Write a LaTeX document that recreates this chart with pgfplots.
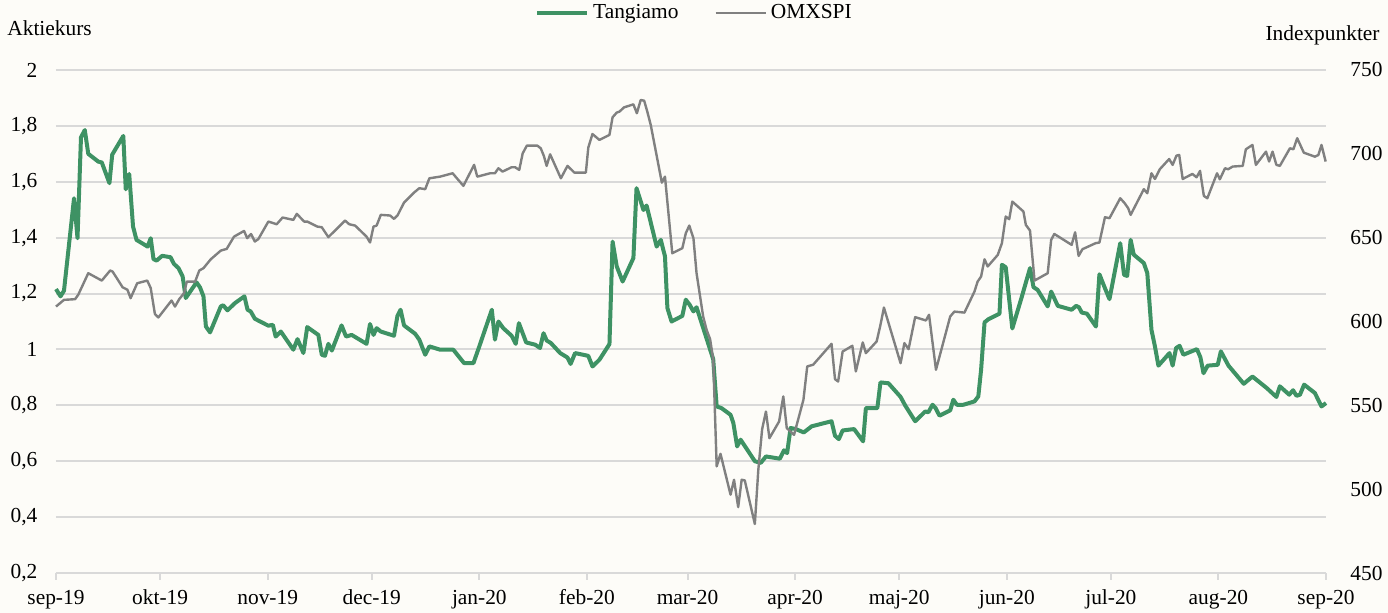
\documentclass[border=0pt]{standalone}
\usepackage{fontspec}
\setmainfont{Liberation Serif}
\usepackage{pgfplots}
\pgfplotsset{compat=1.18}
\definecolor{bgcream}{RGB}{253,252,248}
\definecolor{gridgray}{RGB}{217,217,217}
\definecolor{tgreen}{RGB}{62,146,100}
\definecolor{omxgray}{RGB}{128,128,128}
\newcommand\lbl{\fontsize{10.7}{12.8}\selectfont}

% day index from 2019-09-01, share price (SEK)
\pgfplotstableread{
day val
0 1.216
1.3 1.19
2.3 1.21
5.2 1.541
6.2 1.398
7.2 1.759
8.3 1.785
9.3 1.70
12.2 1.672
13.2 1.669
15.4 1.595
16.2 1.697
19.4 1.764
20.1 1.573
21.1 1.628
22.2 1.44
23.2 1.392
26.4 1.368
27.3 1.398
28.1 1.323
29.0 1.318
30.6 1.335
33.0 1.33
34.0 1.306
35.3 1.291
36.5 1.261
37.4 1.184
40.5 1.24
41.5 1.222
42.5 1.19
43.2 1.082
44.4 1.061
47.5 1.154
48.2 1.158
49.4 1.14
51.6 1.166
54.3 1.19
55.2 1.142
56.1 1.136
57.3 1.11
58.8 1.10
61.2 1.085
62.5 1.088
63.3 1.046
64.8 1.064
68.4 0.999
69.6 1.037
71.3 0.987
72.4 1.08
75.6 1.052
76.6 0.981
77.5 0.977
78.5 1.02
79.5 0.996
82.3 1.086
83.6 1.046
85.2 1.052
89.5 1.02
90.5 1.091
91.5 1.052
92.4 1.076
93.6 1.064
97.4 1.049
98.4 1.12
99.3 1.142
100.3 1.086
103.5 1.056
104.7 1.035
106.4 0.981
107.6 1.011
110.7 0.999
114.5 0.999
117.6 0.951
120.3 0.951
122.0 1.011
125.6 1.142
126.5 1.035
127.5 1.10
128.9 1.076
131.3 1.049
132.5 1.02
133.4 1.094
135.5 1.025
138.1 1.017
139.5 1.005
140.5 1.058
141.4 1.032
142.6 1.023
145.3 0.987
147.4 0.971
148.3 0.948
149.6 0.987
153.4 0.977
154.6 0.939
156.6 0.963
159.5 1.019
160.4 1.386
161.6 1.297
163.3 1.243
166.4 1.327
167.3 1.577
169.3 1.499
170.2 1.515
173.1 1.368
174.3 1.392
175.5 1.333
176.2 1.148
177.4 1.10
180.5 1.12
181.5 1.178
182.6 1.16
183.7 1.136
184.6 1.151
189.4 0.965
190.4 0.796
191.8 0.79
194.4 0.766
195.2 0.737
196.3 0.653
197.3 0.677
201.4 0.60
203.1 0.594
204.6 0.617
208.6 0.609
209.8 0.639
210.7 0.629
211.7 0.719
213.2 0.715
215.5 0.703
217.8 0.725
223.5 0.743
224.5 0.691
225.6 0.679
226.7 0.71
230.0 0.715
232.6 0.671
233.4 0.79
236.7 0.79
237.6 0.882
239.9 0.879
243.4 0.83
244.7 0.80
247.6 0.743
250.5 0.778
251.4 0.775
252.6 0.802
253.5 0.79
254.6 0.763
257.7 0.782
258.6 0.82
259.6 0.802
261.5 0.802
264.7 0.814
265.8 0.832
266.6 0.927
267.6 1.097
268.7 1.108
271.9 1.128
272.6 1.303
273.7 1.294
275.6 1.075
278.3 1.187
280.7 1.291
281.7 1.223
282.9 1.213
285.8 1.154
286.8 1.207
288.7 1.156
292.7 1.142
294.0 1.156
294.8 1.151
295.6 1.132
297.1 1.128
299.7 1.082
300.7 1.269
302.1 1.225
303.6 1.18
306.7 1.38
307.8 1.267
308.7 1.263
309.7 1.392
310.6 1.339
313.5 1.309
314.5 1.273
315.7 1.07
316.7 1.011
317.7 0.942
320.9 0.987
321.8 0.942
322.8 1.005
323.8 1.013
324.9 0.981
328.8 1.001
329.8 0.972
330.7 0.915
331.9 0.942
334.8 0.945
335.7 0.993
337.9 0.942
342.3 0.877
344.8 0.903
348.9 0.862
351.7 0.83
352.7 0.868
355.4 0.838
356.5 0.854
357.5 0.834
358.5 0.838
359.7 0.874
362.8 0.844
364.7 0.796
366 0.808
}\tangiamo

% OMXSPI index points
\pgfplotstableread{
day val
0 608.9
2.3 612.9
5.5 613.3
6.4 615.9
9.3 628.8
13.2 624.4
15.6 630.4
16.3 629.8
19.2 620.4
20.6 618.9
21.5 613.9
23.4 622.8
26.3 624.4
27.3 619.9
28.5 604.5
29.5 602.4
33.3 612.5
34.3 608.9
35.5 613.3
36.9 616.9
37.7 623.8
40.1 623.8
41.3 630.4
42.5 631.8
44.6 637.1
47.5 642.3
49.2 643.3
51.3 650.6
54.2 654.0
55.1 649.7
56.2 652.2
57.3 647.7
58.3 649.1
61.2 659.6
63.6 658.0
65.3 662.0
68.4 660.6
69.4 664.2
71.5 659.6
72.4 659.6
75.3 656.6
76.6 656.2
78.5 650.3
83.3 660.2
84.5 658.0
86.2 657.2
89.5 650.6
90.5 647.1
91.5 656.6
92.4 657.2
93.6 663.6
96.3 663.2
97.4 661.2
98.4 663.2
100.3 670.9
103.2 676.9
104.7 679.5
106.4 678.9
107.6 685.4
110.7 686.4
114.3 688.4
117.4 680.9
120.5 693.4
121.4 686.4
122.2 686.8
125.1 688.4
126.5 688.4
127.5 691.4
128.7 689.4
131.3 692.0
132.3 692.0
133.5 690.4
134.5 700.3
135.7 704.9
138.7 704.9
139.7 703.3
140.6 698.7
141.4 692.8
142.4 699.7
145.5 685.4
147.4 692.8
149.4 688.8
152.7 688.8
153.4 703.7
154.6 711.8
156.6 708.3
159.5 711.3
160.4 721.8
161.6 724.6
162.4 725.2
163.7 727.7
166.4 729.5
167.4 724.2
168.5 732.1
169.5 731.7
170.4 725.2
171.4 717.2
174.6 682.8
175.5 686.4
177.6 640.7
180.5 643.7
181.5 652.6
182.5 657.2
183.7 649.7
184.6 628.8
186.5 603.0
187.5 595.0
188.5 589.5
189.4 577.5
190.4 513.6
191.5 521.1
194.4 496.7
195.4 505.6
196.6 489.3
197.6 505.6
198.5 505.2
201.4 479.2
202.4 511.6
203.5 535.8
204.6 546.3
205.6 530.4
208.4 540.4
209.6 555.3
210.6 536.4
212.7 532.4
215.4 553.3
216.5 573.2
218.2 574.2
223.5 586.7
224.5 565.6
225.4 564.2
226.7 582.1
229.5 585.5
230.5 570.2
232.5 587.5
233.4 581.1
236.5 588.1
237.5 597.0
238.6 608.3
243.4 575.1
244.5 587.1
245.7 583.5
247.6 602.6
250.7 600.6
251.6 604.0
253.6 571.2
257.7 603.0
258.9 605.9
261.8 605.3
264.7 617.9
265.6 623.8
266.6 626.8
267.6 637.1
268.5 632.8
271.4 639.7
272.6 646.7
273.7 662.6
274.7 661.0
275.6 671.5
278.8 665.6
279.5 657.6
280.7 654.2
282.0 624.4
285.8 628.8
286.8 648.7
287.7 652.2
292.7 645.7
293.7 653.2
294.7 639.1
295.8 643.1
299.6 646.7
300.7 647.1
302.3 662.2
303.6 661.6
306.7 673.5
308.0 670.5
309.0 667.5
309.7 663.6
313.5 678.9
314.5 676.5
315.7 688.4
316.7 685.0
318.1 690.8
320.8 696.9
321.8 693.4
322.9 698.9
323.7 699.3
324.7 685.0
327.5 688.0
328.7 686.0
329.7 689.8
330.8 674.9
331.8 673.5
334.6 688.4
335.4 684.8
336.9 691.4
337.8 690.8
339.1 692.4
342.0 692.8
342.9 702.7
344.8 705.3
345.8 693.4
348.7 701.3
349.6 695.4
350.6 701.3
351.7 693.4
352.7 692.8
355.6 703.3
356.6 702.7
357.7 709.3
359.6 700.7
362.8 698.3
363.8 699.3
364.7 705.3
365.9 695.4
}\omxspi

\begin{document}
\begin{tikzpicture}
\fill[bgcream] (-28pt,-20pt) rectangle (666pt,286.5pt);

\pgfplotsset{
  common/.style={
    at={(0,0)}, anchor=south west,
    scale only axis, width=635pt, height=251.5pt,
    xmin=0, xmax=366, clip=false,
    tick label style={font=\lbl},
    /pgf/number format/.cd, use comma, 1000 sep={}, assume math mode=true,
  },
}

\begin{axis}[
  common,
  ymin=0.2, ymax=2,
  ytick={0.2,0.4,0.6,0.8,1,1.2,1.4,1.6,1.8,2},
  axis x line*=bottom, axis y line*=left,
  x axis line style={draw=gridgray, line width=1pt, -},
  y axis line style={draw=none},
  ymajorgrids, grid style={gridgray, line width=1pt},
  xtick={0,30,61,91,122,153,182,213,243,274,304,335,366},
  xticklabels={sep-19,okt-19,nov-19,dec-19,jan-20,feb-20,mar-20,apr-20,maj-20,jun-20,jul-20,aug-20,sep-20},
  xtick style={draw=gridgray, line width=1pt},
  ytick style={draw=none},
  tick align=outside, major tick length=3.5pt,
  xticklabel style={anchor=base, yshift=-12.3pt},
  yticklabel style={anchor=east, inner sep=0pt, xshift=-5.6pt},
]
\addplot[tgreen, line width=2pt, line join=round] table[x=day, y=val] {\tangiamo};
\node[anchor=west, font=\lbl, inner sep=0pt, xshift=-24.5pt, yshift=21pt] at (rel axis cs:0,1) {Aktiekurs};
\end{axis}

\begin{axis}[
  common,
  ymin=450, ymax=750,
  ytick={450,500,550,600,650,700,750},
  axis x line=none, axis y line*=right,
  y axis line style={draw=none},
  ytick style={draw=none},
  yticklabel style={anchor=west, inner sep=0pt, xshift=12pt},
  legend style={at={(0.5035,1.1133)}, anchor=center, draw=none, fill=none,
    font=\lbl, legend columns=2,
    /tikz/every even column/.append style={column sep=16pt}},
  legend image code/.code={\draw[#1] (0pt,0pt) -- (25pt,0pt);},
]
\addlegendimage{tgreen, line width=2pt}
\addlegendentry{Tangiamo}
\addplot[omxgray, line width=1.2pt, line join=round] table[x=day, y=val] {\omxspi};
\addlegendentry{OMXSPI}
\node[anchor=east, font=\lbl, inner sep=0pt, xshift=27pt, yshift=17.5pt] at (rel axis cs:1,1) {Indexpunkter};
\end{axis}

\pgfresetboundingbox
\path[use as bounding box] (-28pt,-20pt) rectangle (666pt,286.5pt);
\end{tikzpicture}
\end{document}
